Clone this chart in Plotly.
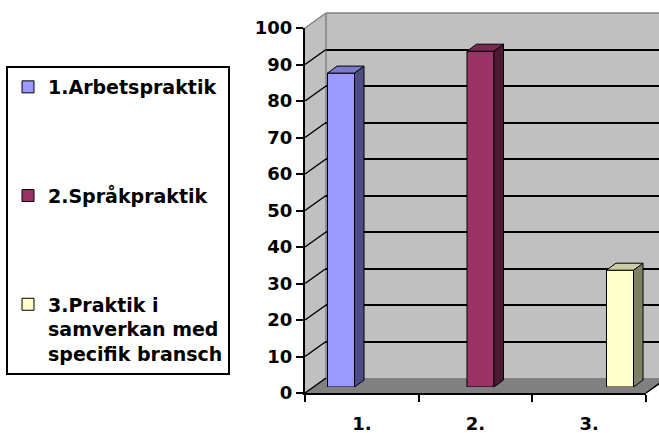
import plotly.graph_objects as go

# data
categories = ["1.", "2.", "3."]
series_names = ["1.Arbetspraktik", "2.Språkpraktik", "3.Praktik i<br>samverkan med<br>specifik bransch"]
values = [86, 92, 32]
y_ticks = list(range(0, 101, 10))

front_colors = ["#9999FF", "#993366", "#FFFFCC"]
side_colors = ["#4D4D80", "#4D1A33", "#808066"]
top_colors = ["#7A7ACC", "#7A2952", "#CCCCA3"]

# page geometry (pixels)
W, H = 659, 433
FRONT_L, FRONT_R = 305, 646
FRONT_TOP, FRONT_BOT = 28, 393
DEPTH_DX, DEPTH_DY = 21, 15
BAR_PLANE = 0.4            # how deep into the box the bar fronts sit
BAR_X0, BAR_STEP = 341, 139.5
BAR_W_PX, BAR_DX_PX, BAR_DY_PX = 27, 9.5, 7

FONT = "DejaVu Sans"


def px(x):
    return x / W


def py(y):
    return 1 - y / H


scale = (FRONT_BOT - FRONT_TOP) / 100.0
bar_bot = FRONT_BOT - DEPTH_DY * BAR_PLANE
back_l = FRONT_L + DEPTH_DX
back_top = FRONT_TOP - DEPTH_DY
back_bot = FRONT_BOT - DEPTH_DY

bw = BAR_W_PX / BAR_STEP
bdx = BAR_DX_PX / BAR_STEP
bdy = BAR_DY_PX / scale

fig = go.Figure()

# back wall subplot (only used for its gridlines)
fig.add_trace(go.Scatter(x=list(range(len(values))), y=values, xaxis="x", yaxis="y",
                         mode="markers", marker=dict(opacity=0), hoverinfo="skip", showlegend=False))

# front axes subplot
fig.add_trace(go.Scatter(x=categories, y=values, xaxis="x2", yaxis="y2",
                         mode="markers", marker=dict(opacity=0), hoverinfo="skip", showlegend=False))

# bars with their side and top faces
for i, (name, v) in enumerate(zip(series_names, values)):
    fig.add_trace(go.Bar(
        x=[i], y=[v], width=bw, name=name, legendgroup=name,
        marker=dict(color=front_colors[i], line=dict(color="black", width=1)),
        xaxis="x3", yaxis="y3",
    ))
    xl, xr = i - bw / 2, i + bw / 2
    fig.add_trace(go.Scatter(
        x=[xr, xr + bdx, xr + bdx, xr, xr], y=[0, bdy, v + bdy, v, 0],
        fill="toself", fillcolor=side_colors[i], mode="lines",
        line=dict(color="black", width=1), legendgroup=name, showlegend=False,
        hoverinfo="skip", xaxis="x3", yaxis="y3",
    ))
    fig.add_trace(go.Scatter(
        x=[xl, xr, xr + bdx, xl + bdx, xl], y=[v, v, v + bdy, v + bdy, v],
        fill="toself", fillcolor=top_colors[i], mode="lines",
        line=dict(color="black", width=1), legendgroup=name, showlegend=False,
        hoverinfo="skip", xaxis="x3", yaxis="y3",
    ))


def path(points):
    return "M" + " L".join("%.5f,%.5f" % (px(a), py(b)) for a, b in points) + " Z"


shapes = [
    # back wall
    dict(type="rect", xref="paper", yref="paper", x0=px(back_l), x1=1, y0=py(back_bot), y1=py(back_top),
         fillcolor="#C0C0C0", line=dict(width=0), layer="below"),
    # left wall
    dict(type="path", xref="paper", yref="paper",
         path=path([(FRONT_L, FRONT_TOP), (back_l, back_top), (back_l, back_bot), (FRONT_L, FRONT_BOT)]),
         fillcolor="#C0C0C0", line=dict(width=0), layer="below"),
    # floor
    dict(type="path", xref="paper", yref="paper",
         path=path([(FRONT_L, FRONT_BOT), (FRONT_R, FRONT_BOT), (FRONT_R + DEPTH_DX, back_bot), (back_l, back_bot)]),
         fillcolor="#808080", line=dict(width=0), layer="below"),
    # wall edges
    dict(type="line", xref="paper", yref="paper", x0=px(FRONT_L), y0=py(FRONT_TOP), x1=px(back_l), y1=py(back_top),
         line=dict(color="#808080", width=1.5), layer="below"),
    dict(type="line", xref="paper", yref="paper", x0=px(back_l), y0=py(back_top), x1=1, y1=py(back_top),
         line=dict(color="#808080", width=1.5), layer="below"),
    dict(type="line", xref="paper", yref="paper", x0=px(back_l), y0=py(back_top), x1=px(back_l), y1=py(back_bot),
         line=dict(color="#808080", width=1.5), layer="below"),
    dict(type="line", xref="paper", yref="paper", x0=px(FRONT_R), y0=py(FRONT_BOT),
         x1=px(FRONT_R + DEPTH_DX), y1=py(back_bot), line=dict(color="black", width=1.5)),
]
# gridlines carried across the left wall
for t in y_ticks[:-1]:
    yf = FRONT_BOT - t * scale
    shapes.append(dict(type="line", xref="paper", yref="paper", x0=px(FRONT_L), y0=py(yf),
                       x1=px(back_l), y1=py(yf - DEPTH_DY), line=dict(color="black", width=1.5), layer="below"))

bold = dict(family=FONT, size=18, color="black", weight="bold")

fig.update_layout(
    template="none",
    width=W, height=H,
    margin=dict(l=0, r=0, t=0, b=0),
    paper_bgcolor="white",
    plot_bgcolor="rgba(0,0,0,0)",
    shapes=shapes,
    showlegend=True,
    legend=dict(
        x=px(6), y=py(66), xanchor="left", yanchor="top", valign="top",
        bordercolor="black", borderwidth=2, bgcolor="white",
        font=dict(family=FONT, size=19, color="black", weight="bold"),
        tracegroupgap=81, traceorder="grouped",
    ),
    xaxis=dict(domain=[px(back_l), 1], range=[-0.5, 2.5], visible=False, showgrid=False),
    yaxis=dict(domain=[py(back_bot), py(back_top)], range=[0, 100], anchor="x",
               tickvals=y_ticks[1:-1], showgrid=True, gridcolor="black", gridwidth=1.5,
               showticklabels=False, ticks="", showline=False, zeroline=False),
    xaxis2=dict(domain=[px(FRONT_L), px(FRONT_R)], anchor="y2", type="category",
                categoryorder="array", categoryarray=categories, range=[-0.5, 2.5],
                tickson="boundaries", ticks="outside", ticklen=7, tickwidth=2, tickcolor="black",
                showline=True, linecolor="black", linewidth=2, showgrid=False, zeroline=False,
                tickfont=bold, ticklabelstandoff=13),
    yaxis2=dict(domain=[py(FRONT_BOT), py(FRONT_TOP)], anchor="x2", range=[0, 100],
                tickvals=y_ticks, ticks="outside", ticklen=7, tickwidth=2, tickcolor="black",
                showline=True, linecolor="black", linewidth=2, showgrid=False, zeroline=False,
                tickfont=bold),
    xaxis3=dict(domain=[px(FRONT_L), 1],
                range=[(FRONT_L - BAR_X0) / BAR_STEP, (W - BAR_X0) / BAR_STEP],
                visible=False, showgrid=False),
    yaxis3=dict(domain=[py(bar_bot), py(bar_bot - 100 * scale)], range=[0, 100],
                anchor="x3", visible=False, showgrid=False),
)

# the page body has a default 8px margin; drop it so the figure fills the window
fig.write_html("out.html", config={"displayModeBar": False},
               post_script="document.body.style.margin='0';")
